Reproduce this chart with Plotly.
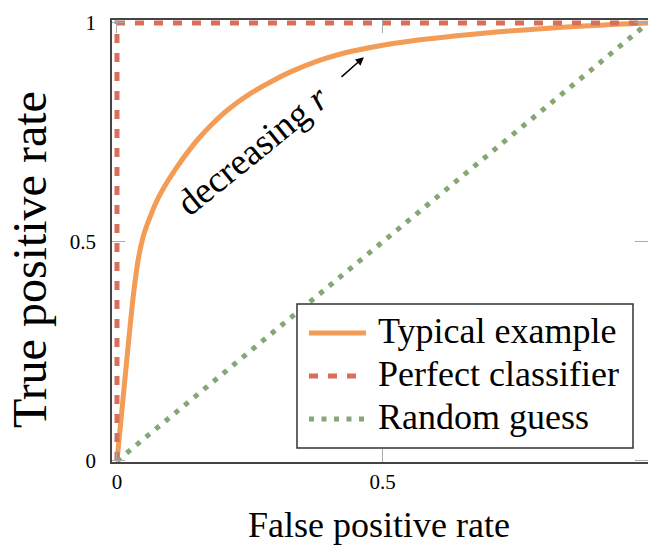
import plotly.graph_objects as go

# --- data ---
typical_fpr = [0, 0.01, 0.02, 0.03, 0.04, 0.05, 0.06, 0.075, 0.09, 0.11, 0.13, 0.155,
               0.18, 0.21, 0.25, 0.29, 0.33, 0.38, 0.43, 0.49, 0.56, 0.64, 0.72,
               0.80, 0.88, 0.94, 1.0]
typical_tpr = [0, 0.125, 0.25, 0.37, 0.46, 0.515, 0.55, 0.594, 0.628, 0.666, 0.70, 0.738,
               0.77, 0.803, 0.838, 0.866, 0.89, 0.914, 0.932, 0.947, 0.96, 0.971, 0.98,
               0.987, 0.993, 0.997, 1.0]
perfect_fpr = [0, 0, 1]
perfect_tpr = [0, 1, 1]
random_fpr = [0, 1]
random_tpr = [0, 1]
tick_vals = [0, 0.5, 1]
tick_text = ["0", "0.5", "1"]
series_names = ["Typical example", "Perfect classifier", "Random guess"]

FONT = "Liberation Serif"
W, H = 648, 545
L, R, T, B = 112, 0, 20, 83
pw, ph = W - L - R, H - T - B

def px_x(p):
    return (p - L) / pw

def px_y(p):
    return (H - B - p) / ph

styles = [
    dict(color="#F39C56", width=5, dash="solid"),
    dict(color="#D6705A", width=5, dash="9px,10px"),
    dict(color="#86A673", width=5, dash="5px,7.5px"),
]

fig = go.Figure()
fig.add_trace(go.Scatter(x=typical_fpr, y=typical_tpr, mode="lines", name=series_names[0],
                         showlegend=False,
                         line=dict(shape="spline", smoothing=0.6, **styles[0])))
fig.add_trace(go.Scatter(x=perfect_fpr, y=perfect_tpr, mode="lines", name=series_names[1],
                         showlegend=False, line=styles[1]))
fig.add_trace(go.Scatter(x=random_fpr, y=random_tpr, mode="lines", name=series_names[2],
                         showlegend=False, line=styles[2]))

axis_common = dict(
    showgrid=False, zeroline=False, showline=True, linecolor="#444", linewidth=1.5,
    mirror="allticks", ticks="inside", ticklen=13, tickcolor="#aaa", tickwidth=1,
    tickvals=tick_vals, ticktext=tick_text, automargin=False,
    tickfont=dict(family=FONT, size=21, color="black"),
)
fig.update_xaxes(range=[-0.0094, 1.0], ticklabelstandoff=0, **axis_common)
fig.update_yaxes(range=[-0.0023, 1.0068], ticklabelstandoff=10, **axis_common)

annotations = [
    dict(text="False positive rate", xref="paper", yref="paper", x=px_x(379), y=px_y(525),
         showarrow=False, font=dict(family=FONT, size=36, color="black"),
         xanchor="center", yanchor="middle"),
    dict(text="True positive rate", xref="paper", yref="paper", x=px_x(29), y=px_y(260),
         showarrow=False, textangle=-90, font=dict(family=FONT, size=48, color="black"),
         xanchor="center", yanchor="middle"),
    dict(text="decreasing <i>r</i>", xref="x", yref="y", x=0.254, y=0.71, showarrow=False,
         textangle=-39, font=dict(family=FONT, size=37, color="black"),
         xanchor="center", yanchor="middle"),
    dict(text="", xref="x", yref="y", x=0.465, y=0.922, axref="x", ayref="y",
         ax=0.42, ay=0.874, showarrow=True, arrowhead=2, arrowsize=1.1, arrowwidth=1.5,
         arrowcolor="black"),
]

# custom legend (box, swatches, labels)
shapes = [dict(type="rect", xref="paper", yref="paper", layer="above",
               x0=px_x(297), x1=px_x(633), y0=px_y(448), y1=px_y(304),
               line=dict(color="#333", width=1.5), fillcolor="white")]
row_line_y = [333, 376, 419]
row_text_y = [331, 374, 417]
for name, st, ly, ty in zip(series_names, styles, row_line_y, row_text_y):
    shapes.append(dict(type="line", xref="paper", yref="paper", layer="above",
                       x0=px_x(309), x1=px_x(366), y0=px_y(ly), y1=px_y(ly),
                       line=dict(color=st["color"], width=st["width"], dash=st["dash"])))
    annotations.append(dict(text=name, xref="paper", yref="paper", x=px_x(376), y=px_y(ty),
                            showarrow=False, xanchor="left", yanchor="middle",
                            font=dict(family=FONT, size=36, color="black")))

fig.update_layout(
    width=W, height=H,
    margin=dict(l=L, r=R, t=T, b=B, pad=0),
    paper_bgcolor="white", plot_bgcolor="white",
    annotations=annotations,
    shapes=shapes,
    showlegend=False,
)

fig.write_html("out.html")
